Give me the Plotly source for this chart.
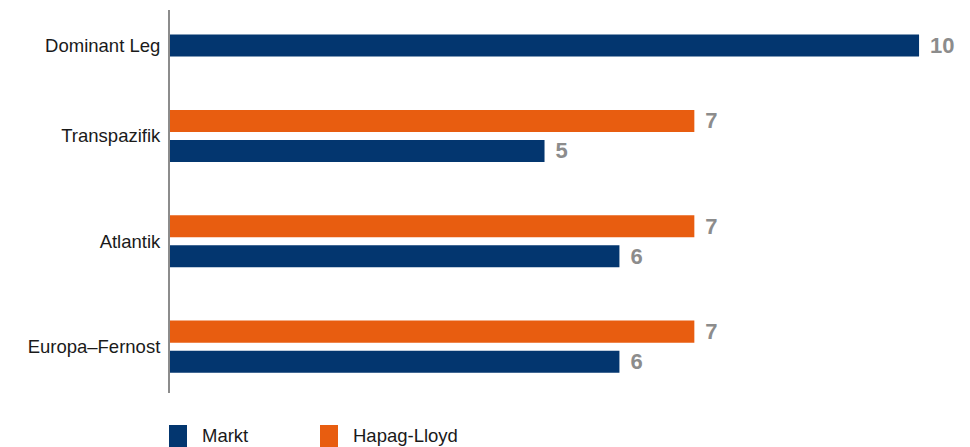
import plotly.graph_objects as go

categories = ["Dominant Leg", "Transpazifik", "Atlantik", "Europa\u2013Fernost"]
markt = [10, 5, 6, 6]
hapag = [None, 7, 7, 7]
series_names = ["Markt", "Hapag-Lloyd"]

NAVY = "#03366F"
ORANGE = "#E85D10"
LABEL_GRAY = "#8C8C8C"
FONT = "Liberation Sans, Arial, Helvetica, sans-serif"

W, H = 970, 447
ML, MR, MT, MB = 170, 6, 10, 54
BARGAP = 0.43
BARGROUPGAP = 0.267
slot_off = (1 - BARGAP) / 4

idx = list(range(len(categories)))
hap_idx = [i for i, v in zip(idx, hapag) if v is not None]
hap_vals = [v for v in hapag if v is not None]

fig = go.Figure()
fig.add_trace(go.Bar(
    y=hap_idx, x=hap_vals, orientation="h", name=series_names[1],
    marker=dict(color=ORANGE, line=dict(width=0)),
    text=hap_vals, texttemplate="\u00a0\u200a%{x}", textposition="outside",
    textfont=dict(family=FONT, size=22, color=LABEL_GRAY, weight="bold"),
    constraintext="none", cliponaxis=False, showlegend=False,
))
fig.add_trace(go.Bar(
    y=idx, x=markt, orientation="h", name=series_names[0],
    marker=dict(color=NAVY, line=dict(width=0)),
    text=markt, texttemplate="\u00a0\u200a%{x}", textposition="outside",
    textfont=dict(family=FONT, size=22, color=LABEL_GRAY, weight="bold"),
    constraintext="none", cliponaxis=False, showlegend=False,
))

tickvals = [i + (slot_off if v is None else 0) for i, v in zip(idx, hapag)]

fig.update_layout(
    width=W, height=H,
    margin=dict(l=ML, r=MR, t=MT, b=MB),
    paper_bgcolor="white", plot_bgcolor="white",
    barmode="group", bargap=BARGAP, bargroupgap=BARGROUPGAP,
    font=dict(family=FONT, size=18, color="#1a1a1a"),
    showlegend=False,
)
fig.update_xaxes(range=[0, 10.6], showgrid=False, zeroline=False,
                 showticklabels=False, showline=False)
fig.update_yaxes(range=[3.44, -0.195], tickvals=tickvals, ticktext=categories,
                 showgrid=False, zeroline=False, showline=True,
                 linecolor="#8C8C8C", linewidth=2, ticks="",
                 ticklabelstandoff=4,
                 tickfont=dict(family=FONT, size=18.5, color="#1a1a1a"))

# manual legend below the plot
pw = W - ML - MR
ph = H - MT - MB
def px_x(p):
    return (p - ML) / pw
def px_y(p):
    return (H - MB - p) / ph

legend_items = [(series_names[0], NAVY, 169), (series_names[1], ORANGE, 320)]
for name, col, x0 in legend_items:
    fig.add_shape(type="rect", xref="paper", yref="paper",
                  x0=px_x(x0), x1=px_x(x0 + 18), y0=px_y(448), y1=px_y(425),
                  fillcolor=col, line=dict(width=0), layer="above")
    fig.add_annotation(xref="paper", yref="paper", x=px_x(x0 + 31), y=px_y(435),
                       text=name, showarrow=False, xanchor="left", yanchor="middle",
                       font=dict(family=FONT, size=18.5, color="#1a1a1a"))

fig.write_html(
    "out.html",
    config={"displayModeBar": False},
    post_script="document.body.style.margin='0';document.body.style.overflow='hidden';",
)
